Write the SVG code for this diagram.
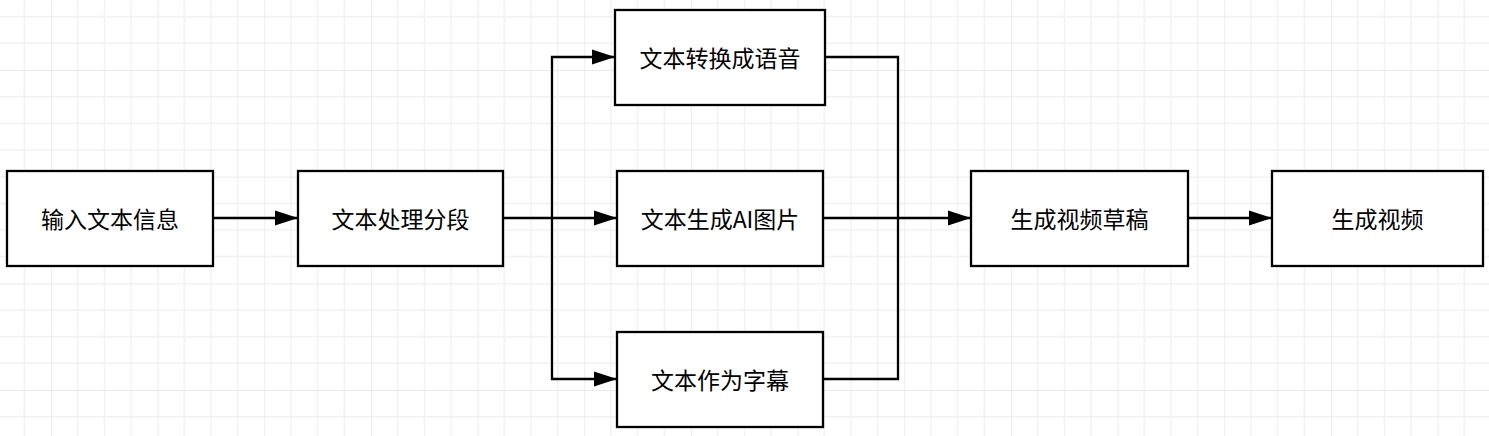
<svg xmlns="http://www.w3.org/2000/svg" width="1489" height="436" viewBox="0 0 1489 436">
  <defs>
    <pattern id="grid" patternUnits="userSpaceOnUse" x="51" y="70" width="106.667" height="106.667">
      <path d="M26.667,0 V106.667 M53.333,0 V106.667 M80,0 V106.667 M0,26.667 H106.667 M0,53.333 H106.667 M0,80 H106.667" stroke="#f0f0f0" stroke-width="1.3" fill="none"/>
      <path d="M0,0 V106.667 M0,0 H106.667" stroke="#e3e3e3" stroke-width="1.3" fill="none"/>
    </pattern>
    <marker id="arrow" markerUnits="userSpaceOnUse" markerWidth="24" markerHeight="16" refX="23" refY="8" orient="auto">
      <path d="M0,0.5 L23,8 L0,15.5 Z" fill="#000"/>
    </marker>
  </defs>
  <style>
    .node rect { fill: #fff; stroke: #000; stroke-width: 2.3; }
    .node text { font-family: "Microsoft YaHei", "Noto Sans CJK SC", "Noto Sans", sans-serif; font-size: 23px; fill: #000; text-anchor: middle; dominant-baseline: central; }
    .edge { fill: none; stroke: #000; stroke-width: 2.3; }
  </style>
  <rect width="1489" height="436" fill="#fff"/>
  <rect width="1489" height="436" fill="url(#grid)"/>

  <g id="connectors">
    <path class="edge" d="M213,218 H298" marker-end="url(#arrow)"/>
    <path class="edge" d="M503,218 H617" marker-end="url(#arrow)"/>
    <path class="edge" d="M552,218 V57 H615" marker-end="url(#arrow)"/>
    <path class="edge" d="M552,218 V379 H617" marker-end="url(#arrow)"/>
    <path class="edge" d="M825,57 H898 V218"/>
    <path class="edge" d="M823,379 H898 V218"/>
    <path class="edge" d="M823,218 H971" marker-end="url(#arrow)"/>
    <path class="edge" d="M1188,218 H1272" marker-end="url(#arrow)"/>
  </g>

  <g id="node-input" class="node">
    <rect x="7" y="171" width="206" height="95"/>
    <text x="110" y="218">输入文本信息</text>
  </g>
  <g id="node-segment" class="node">
    <rect x="298" y="171" width="205" height="95"/>
    <text x="400.5" y="218">文本处理分段</text>
  </g>
  <g id="node-speech" class="node">
    <rect x="615" y="10" width="210" height="95"/>
    <text x="720" y="57">文本转换成语音</text>
  </g>
  <g id="node-image" class="node">
    <rect x="617" y="171" width="206" height="95"/>
    <text x="720" y="218">文本生成AI图片</text>
  </g>
  <g id="node-subtitle" class="node">
    <rect x="617" y="332" width="206" height="95"/>
    <text x="720" y="379">文本作为字幕</text>
  </g>
  <g id="node-draft" class="node">
    <rect x="971" y="171" width="217" height="95"/>
    <text x="1079.5" y="218">生成视频草稿</text>
  </g>
  <g id="node-video" class="node">
    <rect x="1272" y="171" width="211" height="95"/>
    <text x="1377.5" y="218">生成视频</text>
  </g>
</svg>
